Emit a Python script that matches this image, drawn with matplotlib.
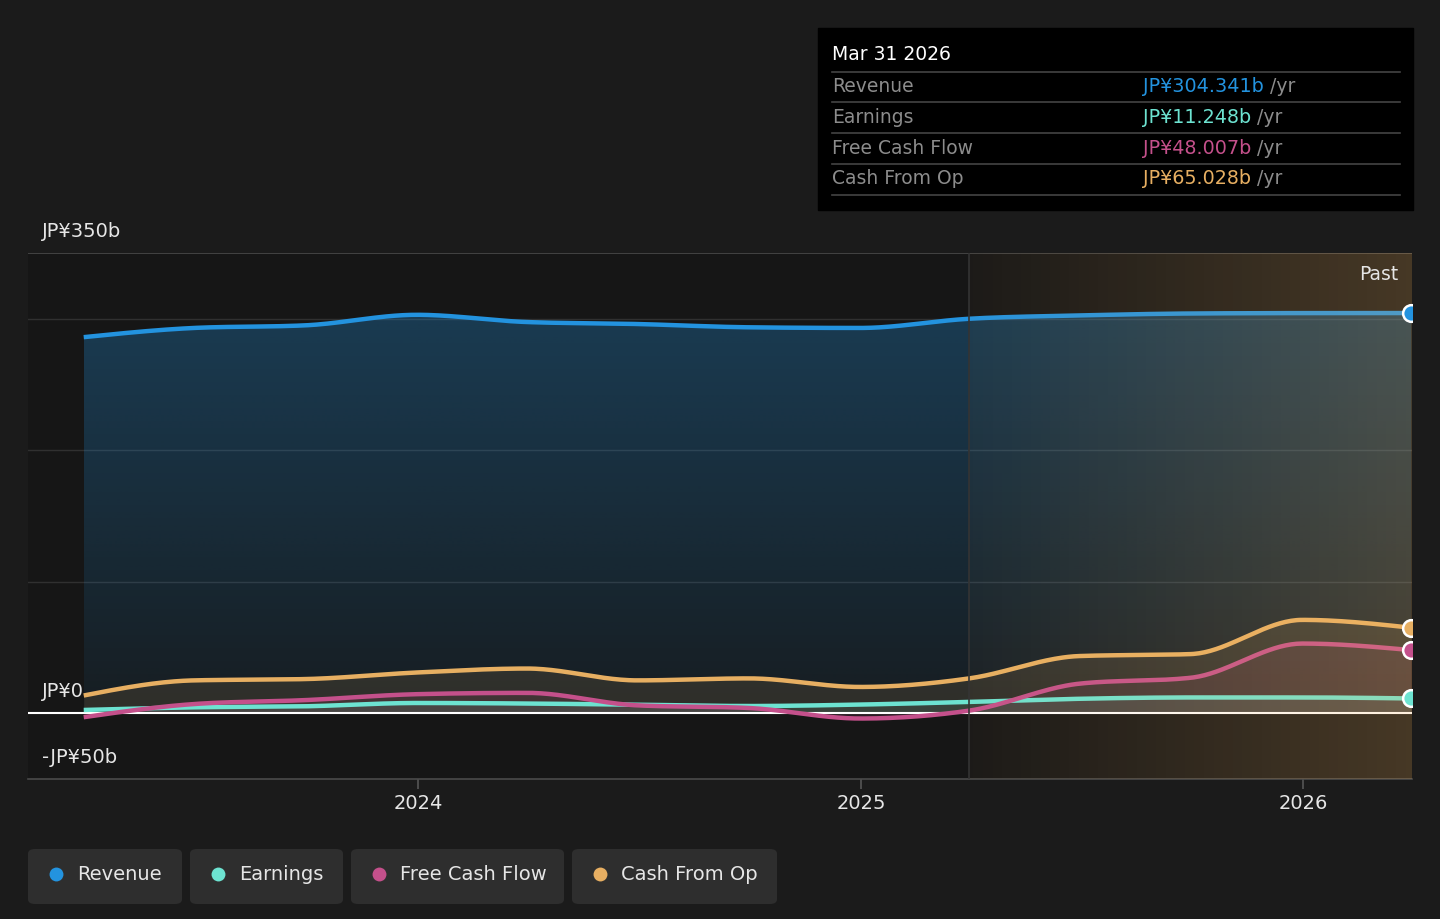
import numpy as np
import matplotlib
matplotlib.use("Agg")
import matplotlib.pyplot as plt
import matplotlib.dates as mdates
from matplotlib.patches import FancyBboxPatch
from datetime import date

plt.rcParams['font.family'] = ['DejaVu Sans']

# quarterly data, JP¥ billions (trailing twelve months)
quarters = [date(2023, 3, 31), date(2023, 6, 30), date(2023, 9, 30), date(2023, 12, 31),
            date(2024, 3, 31), date(2024, 6, 30), date(2024, 9, 30), date(2024, 12, 31),
            date(2025, 3, 31), date(2025, 6, 30), date(2025, 9, 30), date(2025, 12, 31),
            date(2026, 3, 31)]
revenue = [286, 293, 295, 303, 297.5, 296, 293.5, 293, 300, 302.5, 304, 304.3, 304.341]
earnings = [2.5, 4.5, 5.3, 7.8, 7.4, 6.5, 5.5, 6.6, 8.6, 11, 12, 12, 11.248]
free_cash_flow = [-3, 7, 10, 14.5, 15.5, 6, 4, -4, 2, 22.5, 27, 53, 48.007]
cash_from_op = [13.5, 25, 26, 31, 34, 25, 26.5, 20, 26.5, 43.5, 45, 71, 65.028]

series_names = ["Revenue", "Earnings", "Free Cash Flow", "Cash From Op"]
series_values = [revenue, earnings, free_cash_flow, cash_from_op]
series_colors = ["#2393df", "#6de3d1", "#c4508b", "#e7af62"]
tooltip_values = ["JP¥304.341b", "JP¥11.248b", "JP¥48.007b", "JP¥65.028b"]

y_ticks = [350, 0, -50]
y_tick_labels = ["JP¥350b", "JP¥0", "-JP¥50b"]
x_ticks = [date(2024, 1, 1), date(2025, 1, 1), date(2026, 1, 1)]
forecast_start = date(2025, 3, 31)

BG = "#1b1b1b"
PLOT_BG = "#161616"


def monotone(x, y, n=40):
    """monotone cubic (d3 curveMonotoneX style) for drawing smooth lines"""
    x = np.asarray(x, float)
    y = np.asarray(y, float)
    h = np.diff(x)
    d = np.diff(y) / h
    m = np.zeros_like(y)
    for k in range(1, len(y) - 1):
        if d[k - 1] * d[k] <= 0:
            m[k] = 0
        else:
            p = (d[k - 1] * h[k] + d[k] * h[k - 1]) / (h[k - 1] + h[k])
            m[k] = (np.sign(d[k - 1]) + np.sign(d[k])) * min(abs(d[k - 1]), abs(d[k]), 0.5 * abs(p))
    m[0] = (3 * d[0] - m[1]) / 2
    m[-1] = (3 * d[-1] - m[-2]) / 2
    xs, ys = [], []
    for k in range(len(h)):
        t = np.linspace(0, 1, n, endpoint=(k == len(h) - 1))
        h00 = 2 * t**3 - 3 * t**2 + 1
        h10 = t**3 - 2 * t**2 + t
        h01 = -2 * t**3 + 3 * t**2
        h11 = t**3 - t**2
        xs.append(x[k] + t * h[k])
        ys.append(h00 * y[k] + h10 * h[k] * m[k] + h01 * y[k + 1] + h11 * h[k] * m[k + 1])
    return np.concatenate(xs), np.concatenate(ys)


fig = plt.figure(figsize=(14.4, 9.19), dpi=100)
fig.patch.set_facecolor(BG)
ax = fig.add_axes([28 / 1440, 140 / 919, 1384 / 1440, 526 / 919])
ax.set_facecolor(PLOT_BG)

xnum = mdates.date2num(quarters)
x0, x1 = mdates.date2num(date(2023, 2, 13)), xnum[-1] + 0.6
ax.set_xlim(x0, x1)
ax.set_ylim(-50, 350)

# grid lines
for g in [100, 200, 300]:
    ax.axhline(g, color="#303030", lw=1, zorder=1)
ax.axhline(350, color="#4a4a4a", lw=1.2, zorder=1)

# revenue fill with vertical gradient
sx, sy = monotone(xnum, revenue)
poly = ax.fill_between(sx, 0, sy, color="none", lw=0)
grad = np.zeros((100, 2, 4))
c = matplotlib.colors.to_rgb(series_colors[0])
grad[..., :3] = c
grad[..., 3] = np.linspace(0.06, 0.3, 100)[:, None]
im = ax.imshow(grad, extent=[sx[0], sx[-1], 0, max(sy)], origin="lower",
               aspect="auto", zorder=2, interpolation="bilinear")
im.set_clip_path(poly.get_paths()[0], transform=ax.transData)

# other fills
for vals, col in zip(series_values[1:], series_colors[1:]):
    sx, sy = monotone(xnum, vals)
    ax.fill_between(sx, 0, sy, color=col, alpha=0.12, lw=0, zorder=2)

ax.axhline(0, color="#ffffff", lw=1.5, zorder=3)

for vals, col in zip(series_values, series_colors):
    sx, sy = monotone(xnum, vals)
    ax.plot(sx, sy, color=col, lw=3.2, zorder=4, solid_capstyle="butt")

# forecast-side warm overlay
fs = mdates.date2num(forecast_start)
ov = np.zeros((2, 200, 4))
ov[..., 0], ov[..., 1], ov[..., 2] = 1.0, 0.73, 0.38
ov[..., 3] = np.linspace(0.03, 0.21, 200)[None, :]
ax.imshow(ov, extent=[fs, x1, -50, 350], origin="lower", aspect="auto",
          zorder=5, interpolation="bilinear")
ax.axvline(fs, color="#343434", lw=1.2, zorder=5)

# end markers (half clipped at the right edge, like the reference)
for vals, col in zip(series_values, series_colors):
    ax.plot(xnum[-1], vals[-1], "o", ms=12, mfc=col, mec="white", mew=1.8, zorder=6,
            clip_on=True)

ax.set_xlim(x0, x1)
ax.set_ylim(-50, 350)

# axes styling
for s in ["top", "left", "right"]:
    ax.spines[s].set_visible(False)
ax.spines["bottom"].set_color("#4a4a4a")
ax.spines["bottom"].set_linewidth(1.2)
ax.set_yticks([])
ax.set_xticks(mdates.date2num(x_ticks))
ax.set_xticklabels([str(d.year) for d in x_ticks])
ax.tick_params(axis="x", colors="#555555", length=7, width=1.2, pad=4,
               labelcolor="#e6e6e6", labelsize=14)

for v, lab in zip(y_ticks, y_tick_labels):
    ax.text(x0 + 11.5, v + 9, lab, color="#e6e6e6", fontsize=14, ha="left", va="bottom",
            transform=ax.transData, zorder=7)

ax.text(0.99, 0.96, "Past", transform=ax.transAxes, color="#e6e6e6",
        fontsize=13.5, ha="right", va="center", zorder=7)

# tooltip box
fig.patches.append(matplotlib.patches.Rectangle((818 / 1440, 1 - 210 / 919), 595 / 1440, 182 / 919,
                                                transform=fig.transFigure, color="#000000", zorder=1))
fig.text(832 / 1440, 1 - 55 / 919, "Mar 31 2026", color="white", fontsize=13.5, va="center")
for yy in [72, 102, 133, 164, 195]:
    fig.add_artist(plt.Line2D([832 / 1440, 1400 / 1440], [1 - yy / 919] * 2, color="#444444", lw=1.2))
for i, (name, val, col) in enumerate(zip(series_names, tooltip_values, series_colors)):
    yy = 1 - (87 + i * 30.5) / 919
    fig.text(832 / 1440, yy, name, color="#8c8c8c", fontsize=13.5, va="center")
    t = fig.text(1143 / 1440, yy, val, color=col, fontsize=13.8, va="center")
    fig.canvas.draw()
    bb = t.get_window_extent()
    fig.text(bb.x1 / 1440 + 6 / 1440, yy, "/yr", color="#8c8c8c", fontsize=13.5, va="center")

# legend pills
pills = [(28, 182), (190, 343), (351, 564), (572, 777)]
for (a, b), name, col in zip(pills, series_names, series_colors):
    fig.patches.append(FancyBboxPatch((a / 1440, 1 - 904 / 919), (b - a) / 1440, 55 / 919,
                                      boxstyle="round,pad=0,rounding_size=0.005",
                                      transform=fig.transFigure, fc="#2e2e2e", ec="none"))
    fig.add_artist(plt.Line2D([(a + 28) / 1440], [1 - 874 / 919], marker="o", ms=10,
                              mfc=col, mec="none", transform=fig.transFigure))
    fig.text((a + 49) / 1440, 1 - 874 / 919, name, color="#e6e6e6", fontsize=14, va="center")

fig.savefig("out.png", dpi=100, facecolor=BG)
